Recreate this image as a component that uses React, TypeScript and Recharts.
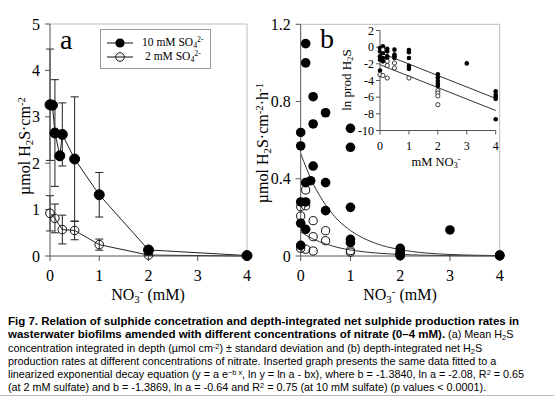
import React from 'react';
import { ComposedChart, Line, Scatter, XAxis, YAxis, ErrorBar, ReferenceLine } from 'recharts';

// ---------- Panel a: mean H2S (µmol cm-2) ± SD ----------
const nitrateA10 = [0, 0.05, 0.1, 0.2, 0.25, 0.5, 1, 2, 4];
const h2sA10 = [3.26, 3.25, 2.65, 2.16, 2.62, 2.09, 1.32, 0.13, 0.01];
const sdA10 = [1.2, 0.05, 1.15, 0.05, 0.68, 1.34, 0.48, 0.05, 0.01];
const nitrateA2 = [0, 0.1, 0.25, 0.5, 1, 2, 4];
const h2sA2 = [0.92, 0.81, 0.57, 0.55, 0.245, 0.02, 0.0];
const sdA2 = [0.38, 0.31, 0.31, 0.2, 0.12, 0.01, 0];

// ---------- Panel b: net H2S production rates ----------
const rateB10X = [0, 0, 0, 0, 0, 0.1, 0.1, 0.1, 0.1, 0.1, 0.2, 0.25, 0.25, 0.25, 0.5, 0.5, 0.5, 1, 1, 1, 1, 1, 2, 2, 2, 2, 3, 4, 4, 4];
const rateB10Y = [0.64, 0.57, 0.28, 0.17, 0.055, 1.1, 1.0, 0.38, 0.28, 0.138, 0.39, 0.825, 0.684, 0.466, 0.742, 0.38, 0.235, 0.661, 0.563, 0.252, 0.086, 0.069, 0.04, 0.022, 0.014, 0.005, 0.135, 0.005, 0.003, 0.002];
const rateB2X = [0, 0, 0, 0.1, 0.1, 0.1, 0.25, 0.25, 0.25, 0.5, 0.5, 1, 1, 2, 2, 2, 4];
const rateB2Y = [0.255, 0.207, 0.04, 0.342, 0.26, 0.035, 0.183, 0.1, 0.026, 0.131, 0.079, 0.028, 0.02, 0.005, 0.002, 0.001, 0.0005];
const fitX = [0, 0.25, 0.5, 0.75, 1, 1.5, 2, 2.5, 3, 3.5, 4];
const fit10 = [0.53, 0.375, 0.265, 0.186, 0.132, 0.066, 0.033, 0.016, 0.008, 0.004, 0.002];
const fit2 = [0.125, 0.088, 0.063, 0.044, 0.031, 0.016, 0.008, 0.004, 0.002, 0.001, 0.0005];

// ---------- Inset: ln prod H2S ----------
const lnX10 = [0, 0, 0, 0, 0, 0.1, 0.1, 0.1, 0.1, 0.1, 0.25, 0.25, 0.25, 0.25, 0.5, 0.5, 0.5, 0.5, 1, 1, 1, 1, 1, 2, 2, 2, 2, 2, 3, 4, 4, 4, 4, 4];
const lnY10 = [-0.1, -0.5, -1.1, -1.5, -2.8, 0.1, -0.2, -0.7, -1.3, -1.7, -0.2, -0.5, -1.1, -1.3, -0.3, -0.9, -1.1, -1.3, -0.35, -0.6, -1.3, -2.25, -2.6, -3.25, -3.65, -4.05, -4.4, -4.65, -1.95, -5.3, -5.7, -5.95, -6.2, -8.65];
const lnX2 = [0, 0.1, 0.1, 0.25, 0.25, 0.25, 0.5, 0.5, 1, 2, 2, 2, 2];
const lnY2 = [-3.3, -0.3, -3.4, -1.7, -2.2, -3.7, -1.9, -2.5, -3.7, -5.2, -5.5, -5.85, -6.9];
const lnFitX = [0, 4];
const lnFit10 = [-0.65, -6.15];
const lnFit2 = [-2.1, -7.6];

// ---------- ticks ----------
const ticksX = [0, 1, 2, 3, 4];
const ticksAY = [0, 1, 2, 3, 4, 5];
const ticksBY = [0, 0.4, 0.8, 1.2];
const ticksInsetY = [-10, -8, -6, -4, -2, 0, 2];

const zip2 = (xs: number[], ys: number[]) => xs.map((x, i) => ({ x, y: ys[i] }));
const zip3 = (xs: number[], ys: number[], es: number[]) => xs.map((x, i) => ({ x, y: ys[i], err: es[i] }));

const dataA10 = zip3(nitrateA10, h2sA10, sdA10);
const dataA2 = zip3(nitrateA2, h2sA2, sdA2);
const dataB10 = zip2(rateB10X, rateB10Y);
const dataB2 = zip2(rateB2X, rateB2Y);
const dataFit10 = zip2(fitX, fit10);
const dataFit2 = zip2(fitX, fit2);
const dataLn10 = zip2(lnX10, lnY10);
const dataLn2 = zip2(lnX2, lnY2);
const dataLnFit10 = zip2(lnFitX, lnFit10);
const dataLnFit2 = zip2(lnFitX, lnFit2);

const SERIF = '"Liberation Serif", "DejaVu Serif", serif';
const SANS = '"Liberation Sans", Arial, sans-serif';
const AX = '#555';
const FRAME = '#bbb';

const tickStyle = { fill: '#000', fontFamily: SERIF, fontSize: 16 };
const insetTick = { fill: '#000', fontFamily: SERIF, fontSize: 12 };

const abs = (l: number, t: number, extra: React.CSSProperties = {}): React.CSSProperties => ({
  position: 'absolute', left: l, top: t, whiteSpace: 'nowrap', ...extra,
});

const sub = { fontSize: '0.68em', verticalAlign: '-0.25em', lineHeight: 0 } as React.CSSProperties;
const sup = { fontSize: '0.68em', verticalAlign: '0.45em', lineHeight: 0 } as React.CSSProperties;

const NO3 = () => (
  <span>
    NO<span style={sub}>3</span><span style={sup}>-</span>
  </span>
);

export default function App() {
  return (
    <div style={{ position: 'absolute', left: 0, top: 0, width: 554, height: 396, background: '#fff', overflow: 'hidden', fontFamily: SERIF, color: '#000' }}>
      <style>{`.recharts-cartesian-axis-tick-value, .recharts-cartesian-axis-tick-value tspan { font-family: "Liberation Serif", serif !important; }`}</style>
      {/* Panel a */}
      <div style={{ position: 'absolute', left: 0, top: 0 }}>
        <ComposedChart width={260} height={300} margin={{ top: 24, right: 13, bottom: 14, left: 10 }}>
          <XAxis type="number" dataKey="x" domain={[0, 4]} ticks={ticksX} interval={0} tick={tickStyle}
            axisLine={{ stroke: AX }} tickLine={{ stroke: AX }} tickSize={5} tickMargin={9} height={30} />
          <YAxis type="number" dataKey="y" domain={[0, 5]} ticks={ticksAY} interval={0} tick={tickStyle}
            axisLine={{ stroke: AX }} tickLine={{ stroke: AX }} tickSize={5} tickMargin={5} width={40} />
          <ReferenceLine y={5} stroke={FRAME} />
          <ReferenceLine x={4} stroke={FRAME} />
          <Line data={dataA2} dataKey="y" stroke="#222" strokeWidth={1} isAnimationActive={false}
            dot={{ r: 4.3, fill: 'none', stroke: '#111', strokeWidth: 1 }} activeDot={false}>
            <ErrorBar dataKey="err" direction="y" width={4} stroke="#222" strokeWidth={1} isAnimationActive={false} />
          </Line>
          <Line data={dataA10} dataKey="y" stroke="#222" strokeWidth={1} isAnimationActive={false}
            dot={{ r: 5, fill: '#000', stroke: '#000', strokeWidth: 1 }} activeDot={false}>
            <ErrorBar dataKey="err" direction="y" width={4} stroke="#222" strokeWidth={1} isAnimationActive={false} />
          </Line>
        </ComposedChart>
      </div>

      {/* Panel b */}
      <div style={{ position: 'absolute', left: 230, top: 0 }}>
        <ComposedChart width={290} height={300} margin={{ top: 24.3, right: 20.3, bottom: 14, left: 30.7 }}>
          <XAxis type="number" dataKey="x" domain={[0, 4]} ticks={ticksX} interval={0} tick={tickStyle}
            axisLine={{ stroke: AX }} tickLine={{ stroke: AX }} tickSize={5} tickMargin={9} height={30} />
          <YAxis type="number" dataKey="y" domain={[0, 1.2]} ticks={ticksBY} interval={0} tick={tickStyle}
            tickFormatter={(v: number) => (v === 0 ? '0' : v.toFixed(1))}
            axisLine={{ stroke: AX }} tickLine={{ stroke: AX }} tickSize={5} tickMargin={5} width={40} />
          <ReferenceLine y={1.2} stroke={FRAME} />
          <ReferenceLine x={4} stroke={FRAME} />
          <Scatter data={dataB2} dataKey="y" isAnimationActive={false}
            shape={(p: any) => <circle cx={p.cx} cy={p.cy} r={4.1} fill="none" stroke="#111" strokeWidth={1} />} />
          <Line data={dataFit10} dataKey="y" type="monotone" stroke="#333" strokeWidth={1} dot={false} activeDot={false} isAnimationActive={false} />
          <Line data={dataFit2} dataKey="y" type="monotone" stroke="#333" strokeWidth={1} dot={false} activeDot={false} isAnimationActive={false} />
          <Scatter data={dataB10} dataKey="y" isAnimationActive={false}
            shape={(p: any) => <circle cx={p.cx} cy={p.cy} r={4.8} fill="#000" />} />
        </ComposedChart>
      </div>

      {/* Inset */}
      <div style={{ position: 'absolute', left: 340, top: 0 }}>
        <ComposedChart width={214} height={180} margin={{ top: 30.5, right: 58.3, bottom: 29.5, left: 10 }}>
          <XAxis type="number" dataKey="x" domain={[0, 4]} ticks={ticksX} interval={0} tick={insetTick}
            axisLine={{ stroke: AX }} tickLine={{ stroke: AX }} tickSize={4} tickMargin={7} height={20} />
          <YAxis type="number" dataKey="y" domain={[-10, 2]} ticks={ticksInsetY} interval={0} tick={insetTick}
            axisLine={{ stroke: AX }} tickLine={{ stroke: AX }} tickSize={4} tickMargin={2} width={30} />
          <Line data={dataLnFit10} dataKey="y" stroke="#333" strokeWidth={1} dot={false} activeDot={false} isAnimationActive={false} />
          <Line data={dataLnFit2} dataKey="y" stroke="#333" strokeWidth={1} dot={false} activeDot={false} isAnimationActive={false} />
          <Scatter data={dataLn10} dataKey="y" isAnimationActive={false}
            shape={(p: any) => <circle cx={p.cx} cy={p.cy} r={2.3} fill="#000" />} />
          <Scatter data={dataLn2} dataKey="y" isAnimationActive={false}
            shape={(p: any) => <circle cx={p.cx} cy={p.cy} r={2.1} fill="#fff" stroke="#111" strokeWidth={0.8} />} />
        </ComposedChart>
      </div>

      {/* Panel letters */}
      <div style={abs(60, 23, { fontSize: 28, lineHeight: '34px' })}>a</div>
      <div style={abs(320, 22, { fontSize: 28, lineHeight: '34px' })}>b</div>

      {/* Legend */}
      <div style={abs(100, 28.5, { width: 111, height: 40, border: '1px solid #999', boxSizing: 'border-box', background: '#fff' })}>
        <svg width={40} height={38} style={{ position: 'absolute', left: 4, top: 0 }}>
          <line x1={2} x2={28} y1={13} y2={13} stroke="#111" strokeWidth={1} />
          <circle cx={15} cy={13} r={4.6} fill="#000" />
          <line x1={2} x2={28} y1={27} y2={27} stroke="#111" strokeWidth={1} />
          <circle cx={15} cy={27} r={4.3} fill="none" stroke="#111" strokeWidth={1} />
        </svg>
        <div style={abs(41, 5, { fontSize: 11.5, lineHeight: '14px' })}>10 mM SO<span style={sub}>4</span><span style={sup}>2-</span></div>
        <div style={abs(44, 19, { fontSize: 11.5, lineHeight: '14px' })}>2 mM SO<span style={sub}>4</span><span style={sup}>2-</span></div>
      </div>

      {/* Axis titles */}
      <div style={abs(25, 146, { fontSize: 16, transform: 'translate(-50%,-50%) rotate(-90deg)' })}>
        µmol H<span style={sub}>2</span>S·cm<span style={sup}>-2</span>
      </div>
      <div style={abs(263, 143, { fontSize: 16, transform: 'translate(-50%,-50%) rotate(-90deg)' })}>
        µmol H<span style={sub}>2</span>S·cm<span style={sup}>-2</span>·h<span style={sup}>-1</span>
      </div>
      <div style={abs(148, 295, { fontSize: 16, transform: 'translate(-50%,-50%)' })}>
        <NO3 /> (mM)
      </div>
      <div style={abs(400, 295, { fontSize: 16, transform: 'translate(-50%,-50%)' })}>
        <NO3 /> (mM)
      </div>
      <div style={abs(347, 80, { fontSize: 13, transform: 'translate(-50%,-50%) rotate(-90deg)' })}>
        ln prod H<span style={sub}>2</span>S
      </div>
      <div style={abs(436, 162, { fontSize: 12.5, transform: 'translate(-50%,-50%)' })}>
        mM <NO3 />
      </div>

      {/* Caption */}
      <div style={abs(8, 315, { fontFamily: SANS, fontSize: 10.8, lineHeight: '13.3px', color: '#000' })}>
        <div><b style={{ fontSize: 11.5 }}>Fig 7. Relation of sulphide concetration and depth-integrated net sulphide production rates in</b></div>
        <div><b style={{ fontSize: 11.5 }}>wasterwater biofilms amended with different concentrations of nitrate (0–4 mM).</b> (a) Mean H<span style={sub}>2</span>S</div>
        <div>concentration integrated in depth (µmol cm<span style={sup}>-2</span>) ± standard deviation and (b) depth-integrated net H<span style={sub}>2</span>S</div>
        <div>production rates at different concentrations of nitrate. Inserted graph presents the same data fitted to a</div>
        <div>linearized exponential decay equation (y = a e<span style={sup}>−b x</span>, ln y = ln a - bx), where b = -1.3840, ln a = -2.08, R<span style={sup}>2</span> = 0.65</div>
        <div>(at 2 mM sulfate) and b = -1.3869, ln a = -0.64 and R<span style={sup}>2</span> = 0.75 (at 10 mM sulfate) (p values &lt; 0.0001).</div>
      </div>
      <div style={abs(0, 395, { width: 554, height: 1, background: '#bbb' })} />
    </div>
  );
}
